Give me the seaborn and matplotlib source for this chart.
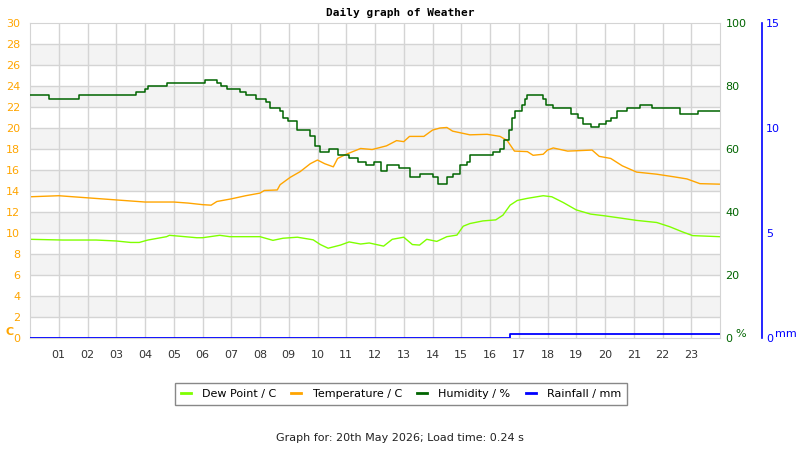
import pandas as pd
import matplotlib
matplotlib.use("Agg")
import matplotlib.pyplot as plt
from matplotlib.lines import Line2D
import seaborn as sns

# --- values (hour of day -> reading) ---
temp_hours = [0, 0.5, 1.0, 1.5, 2.0, 2.5, 3.0, 3.5, 4.0, 4.5, 5.0, 5.5, 6.0, 6.3,
              6.5, 7.0, 7.5, 8.0, 8.15, 8.6, 8.7, 9.05, 9.4, 9.75, 10.0, 10.25,
              10.55, 10.7, 11.0, 11.5, 11.9, 12.4, 12.75, 13.0, 13.2, 13.7, 14.0,
              14.26, 14.5, 14.7, 15.3, 15.9, 16.35, 16.6, 16.85, 17.3, 17.5,
              17.85, 18.0, 18.2, 18.7, 19.15, 19.55, 19.8, 20.2, 20.6, 21.1,
              21.8, 22.4, 22.85, 23.3, 24.0]
temp_c = [13.45, 13.5, 13.55, 13.45, 13.35, 13.25, 13.15, 13.05, 12.95, 12.95,
          12.95, 12.85, 12.7, 12.65, 13.0, 13.25, 13.55, 13.8, 14.05, 14.1, 14.6,
          15.3, 15.85, 16.6, 16.95, 16.6, 16.3, 17.1, 17.5, 18.05, 17.95, 18.3,
          18.8, 18.7, 19.2, 19.2, 19.8, 20.0, 20.05, 19.7, 19.35, 19.4, 19.2,
          18.8, 17.8, 17.75, 17.4, 17.5, 17.9, 18.1, 17.8, 17.85, 17.9, 17.3,
          17.1, 16.4, 15.8, 15.6, 15.35, 15.15, 14.7, 14.65]

dew_hours = [0, 1.15, 2.3, 3.0, 3.5, 3.8, 4.1, 4.75, 4.85, 5.8, 6.0, 6.6, 6.95,
             8.0, 8.45, 8.8, 9.3, 9.85, 10.1, 10.37, 10.8, 11.1, 11.5, 11.8,
             12.3, 12.6, 13.0, 13.3, 13.55, 13.8, 14.15, 14.5, 14.85, 15.07,
             15.3, 15.75, 16.2, 16.45, 16.7, 16.95, 17.3, 17.85, 18.15, 18.55,
             19.0, 19.5, 19.95, 20.6, 21.1, 21.8, 22.25, 22.7, 23.05, 24.0]
dew_c = [9.4, 9.33, 9.33, 9.24, 9.1, 9.1, 9.33, 9.65, 9.78, 9.55, 9.55, 9.78,
         9.65, 9.65, 9.3, 9.5, 9.6, 9.35, 8.9, 8.55, 8.85, 9.15, 8.95, 9.05,
         8.75, 9.4, 9.6, 8.9, 8.85, 9.4, 9.2, 9.65, 9.8, 10.65, 10.9, 11.15,
         11.25, 11.7, 12.65, 13.1, 13.3, 13.55, 13.45, 12.9, 12.2, 11.8, 11.65,
         11.4, 11.2, 11.0, 10.6, 10.1, 9.75, 9.65]

hum_hours = [0, 0.65, 1.7, 3.7, 4.0, 4.1, 4.75, 6.1, 6.5, 6.65, 6.85, 7.3, 7.5,
             7.85, 8.2, 8.35, 8.7, 8.8, 8.97, 9.3, 9.75, 9.9, 10.1, 10.4, 10.7,
             11.1, 11.4, 11.7, 11.95, 12.2, 12.4, 12.85, 13.2, 13.55, 14.0,
             14.2, 14.5, 14.7, 14.95, 15.2, 15.3, 16.1, 16.35, 16.5, 16.65,
             16.75, 16.87, 17.1, 17.2, 17.3, 17.85, 17.95, 18.2, 18.8, 19.05,
             19.25, 19.5, 19.8, 20.05, 20.2, 20.4, 20.75, 21.2, 21.65, 22.6,
             23.25, 24.0]
hum_pct = [77, 76, 77, 78, 79, 80, 81, 82, 81, 80, 79, 78, 77, 76, 75, 73, 72,
           70, 69, 66, 64, 61, 59, 60, 58, 57, 56, 55, 56, 53, 55, 54, 51, 52,
           51, 49, 51, 52, 55, 56, 58, 59, 60, 63, 66, 70, 72, 74, 76, 77, 76,
           74, 73, 71, 70, 68, 67, 68, 69, 70, 72, 73, 74, 73, 71, 72, 72]

rain_hours = [0, 16.7, 24.0]
rain_mm = [0.0, 0.2, 0.2]

hour_labels = [f"{h:02d}" for h in range(1, 24)]
legend_labels = ["Dew Point / C", "Temperature / C", "Humidity / %", "Rainfall / mm"]

ORANGE = "#FFA500"
DEW = "#7FFF00"
HUM = "#006400"
RAIN = "#0000FF"
GRID = "#d4d4d4"

temp_df = pd.DataFrame({"hour": temp_hours, "value": temp_c})
dew_df = pd.DataFrame({"hour": dew_hours, "value": dew_c})
hum_df = pd.DataFrame({"hour": hum_hours, "value": hum_pct})
rain_df = pd.DataFrame({"hour": rain_hours, "value": rain_mm})

plt.rcParams["font.family"] = ["DejaVu Sans"]
fig = plt.figure(figsize=(8, 4.5), dpi=100)
ax = fig.add_axes([30 / 800, 1 - 338 / 450, 690 / 800, 315 / 450])

# alternating bands + grid
for lo in range(2, 28, 4):
    ax.axhspan(lo, lo + 2, color="#f3f3f3", zorder=0, lw=0)
for y in range(2, 30, 2):
    ax.axhline(y, color=GRID, lw=1.0, zorder=0.5)
for h in range(1, 24):
    ax.axvline(h, color=GRID, lw=1.0, zorder=0.5)

sns.lineplot(data=dew_df, x="hour", y="value", ax=ax, color=DEW, lw=1.0,
             estimator=None, sort=False, legend=False)
sns.lineplot(data=temp_df, x="hour", y="value", ax=ax, color=ORANGE, lw=1.0,
             estimator=None, sort=False, legend=False)

ax.set_xlim(0, 24)
ax.set_ylim(0, 30)
ax.set_xticks(range(1, 24))
ax.set_xticklabels(hour_labels)
ax.set_yticks(range(0, 31, 2))
ax.tick_params(axis="x", length=0, pad=9, labelsize=8, labelcolor="#333333")
ax.tick_params(axis="y", length=0, pad=7, labelsize=8, labelcolor=ORANGE)
ax.set_xlabel("")
ax.set_ylabel("")
for s in ax.spines.values():
    s.set_color(GRID)

# humidity axis
ax2 = ax.twinx()
sns.lineplot(data=hum_df, x="hour", y="value", ax=ax2, color=HUM, lw=1.1,
             drawstyle="steps-post", estimator=None, sort=False, legend=False)
ax2.set_ylim(0, 100)
ax2.set_yticks(range(0, 101, 20))
ax2.tick_params(axis="y", length=0, pad=4, labelsize=8, labelcolor=HUM)
ax2.set_ylabel("")
for s in ax2.spines.values():
    s.set_visible(False)

# rainfall axis
ax3 = ax.twinx()
sns.lineplot(data=rain_df, x="hour", y="value", ax=ax3, color=RAIN, lw=1.3,
             drawstyle="steps-post", estimator=None, sort=False, legend=False)
ax3.set_ylim(0, 15)
ax3.set_xlim(0, 24)
ax3.set_yticks([0, 5, 10, 15])
ax3.tick_params(axis="y", length=0, pad=3, labelsize=8, labelcolor=RAIN)
ax3.set_ylabel("")
for name, s in ax3.spines.items():
    s.set_visible(name == "right")
ax3.spines["right"].set_position(("axes", (762 - 30) / 690))
ax3.spines["right"].set_color(RAIN)
ax3.spines["right"].set_linewidth(1.2)

# unit labels
fig.text(5 / 800, 1 - 332 / 450, "C", color=ORANGE, fontsize=8, fontweight="bold",
         va="center")
fig.text(735 / 800, 1 - 334 / 450, "%", color=HUM, fontsize=8, va="center")
fig.text(775 / 800, 1 - 334 / 450, "mm", color=RAIN, fontsize=8, va="center")

fig.text(0.5, 1 - 13 / 450, "Daily graph of Weather", ha="center", va="center",
         fontsize=8, fontweight="bold", family="DejaVu Sans Mono")

handles = [Line2D([], [], color=c, lw=2) for c in (DEW, ORANGE, HUM, RAIN)]
leg = fig.legend(handles, legend_labels, loc="center", ncol=4,
                 bbox_to_anchor=(401 / 800, 1 - 394 / 450), fontsize=8,
                 handlelength=0.9, handletextpad=1.0, columnspacing=1.4,
                 fancybox=False, borderpad=0.5, framealpha=1)
leg.get_frame().set_edgecolor("#888888")
leg.get_frame().set_linewidth(1.0)

fig.text(0.5, 1 - 438 / 450, "Graph for: 20th May 2026; Load time: 0.24 s",
         ha="center", va="center", fontsize=8, color="#222222")

fig.savefig("out.png", dpi=100)
